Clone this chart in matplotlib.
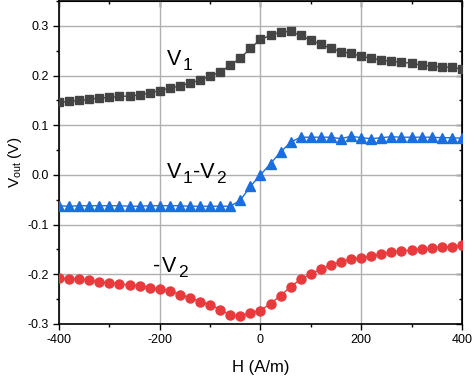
import numpy as np
import matplotlib
matplotlib.use("Agg")
import matplotlib.pyplot as plt
from matplotlib.ticker import MultipleLocator

plt.rcParams['font.family'] = ['Liberation Sans', 'DejaVu Sans']

H = list(range(-400, 401, 20))

V1 = [0.146, 0.148, 0.150, 0.152, 0.155, 0.156, 0.158, 0.159, 0.161, 0.165,
      0.170, 0.175, 0.179, 0.185, 0.191, 0.199, 0.207, 0.221, 0.235, 0.255,
      0.273, 0.281, 0.288, 0.289, 0.281, 0.271, 0.263, 0.255, 0.248, 0.245,
      0.239, 0.235, 0.231, 0.229, 0.227, 0.225, 0.221, 0.219, 0.217, 0.217, 0.213]

V1_minus_V2 = [-0.062, -0.063, -0.062, -0.062, -0.062, -0.062, -0.062, -0.063, -0.063, -0.062,
               -0.062, -0.062, -0.062, -0.063, -0.063, -0.063, -0.063, -0.063, -0.051, -0.023,
               0.000, 0.023, 0.046, 0.066, 0.076, 0.076, 0.076, 0.076, 0.073, 0.078,
               0.075, 0.073, 0.075, 0.077, 0.076, 0.076, 0.076, 0.076, 0.075, 0.075, 0.074]

minus_V2 = [-0.208, -0.210, -0.210, -0.212, -0.215, -0.217, -0.219, -0.222, -0.223, -0.227,
            -0.230, -0.233, -0.241, -0.247, -0.255, -0.261, -0.271, -0.282, -0.285, -0.277,
            -0.273, -0.259, -0.243, -0.225, -0.210, -0.199, -0.190, -0.181, -0.175, -0.169,
            -0.167, -0.163, -0.160, -0.155, -0.153, -0.151, -0.149, -0.147, -0.145, -0.145, -0.142]

fig = plt.figure(figsize=(4.74, 3.78), dpi=100)
ax = fig.add_axes([0.1245, 0.143, 0.850, 0.854])

ax.plot(H, V1, '-s', color='#444444', markersize=5.5, linewidth=1, zorder=3)
ax.plot(H, V1_minus_V2, '-^', color='#1a6ee0', markersize=6.5, linewidth=1, zorder=3)
ax.plot(H, minus_V2, '-o', color='#e83a3c', markersize=6.5, linewidth=1, zorder=3)

ax.set_xlim(-400, 400)
ax.set_ylim(-0.3, 0.35)
ax.xaxis.set_minor_locator(MultipleLocator(100))
ax.yaxis.set_minor_locator(MultipleLocator(0.05))
ax.set_yticks([-0.3, -0.2, -0.1, 0.0, 0.1, 0.2, 0.3])
ax.set_yticklabels(['-0.3', '-0.2', '-0.1', '0.0', '0.1', '0.2', '0.3'])
ax.set_xticks([-400, -200, 0, 200, 400])
ax.set_xticklabels(['-400', '-200', '0', '200', '400'])
ax.grid(True, which='major', color='#b0b0b0', linewidth=1.0, zorder=0)
ax.tick_params(which='major', direction='out', length=4, width=1, labelsize=9)
ax.tick_params(which='minor', direction='out', length=2.5, width=1)
for s in ax.spines.values():
    s.set_linewidth(1.2)

# top and right inward ticks
axt = ax.secondary_xaxis('top')
axt.xaxis.set_major_locator(MultipleLocator(200))
axt.xaxis.set_minor_locator(MultipleLocator(100))
axt.tick_params(which='both', direction='in', labeltop=False)
axt.tick_params(which='major', length=4, width=1)
axt.tick_params(which='minor', length=2.5, width=1)
axr = ax.secondary_yaxis('right')
axr.yaxis.set_major_locator(MultipleLocator(0.1))
axr.yaxis.set_minor_locator(MultipleLocator(0.05))
axr.tick_params(which='both', direction='in', labelright=False)
axr.tick_params(which='major', length=4, width=1)
axr.tick_params(which='minor', length=2.5, width=1)

ax.set_xlabel('H (A/m)', fontsize=12, labelpad=10)
ax.set_ylabel('V$_{\\mathregular{out}}$ (V)', fontsize=11, labelpad=2)

renderer = fig.canvas.get_renderer()


def sub_label(x, y, parts):
    off = 0.0
    for s, is_sub in parts:
        fs = 12.5 if is_sub else 15.5
        dy = -5 if is_sub else 0
        t = ax.annotate(s, (x, y), xytext=(off, dy), textcoords='offset pixels',
                        fontsize=fs, ha='left', va='baseline', zorder=4)
        off += t.get_window_extent(renderer).width + 1


sub_label(-185, 0.221, [('V', False), ('1', True)])
sub_label(-185, -0.006, [('V', False), ('1', True), ('-V', False), ('2', True)])
sub_label(-213, -0.195, [('-', False)])
sub_label(-195, -0.195, [('V', False), ('2', True)])

fig.savefig('out.png', dpi=100)
